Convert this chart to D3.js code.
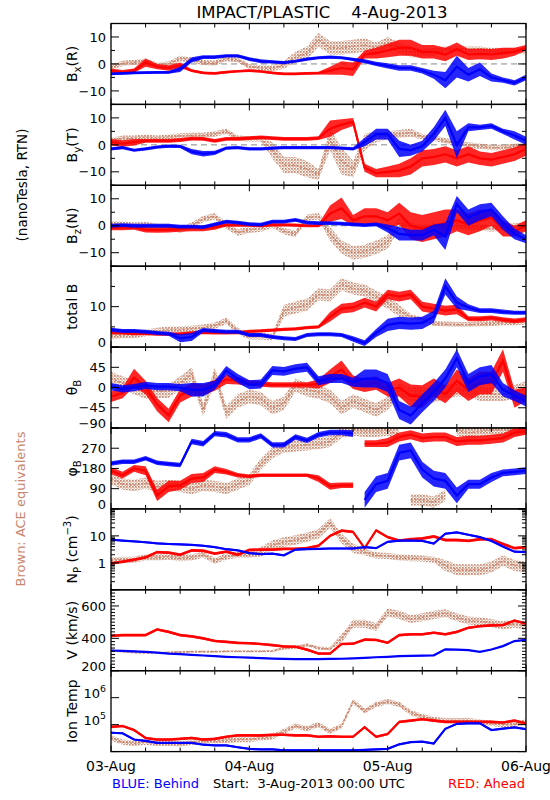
<!DOCTYPE html>
<html><head><meta charset="utf-8">
<script src="https://cdn.jsdelivr.net/npm/d3@7"></script>
<style>
body{margin:0;background:#fff}
svg text{font-family:"DejaVu Sans","Liberation Sans",sans-serif;white-space:pre}
</style>
</head><body>
<svg id="c" width="550" height="800"></svg>
<script>
// ---- sample times (hours after 3-Aug-2013 00:00 UTC), one reading every 2 h ----
const hours = d3.range(0, 73, 2);
const dayTicks = [0, 24, 48, 72];
const dayLabels = ["03-Aug", "04-Aug", "05-Aug", "06-Aug"];

// ---- B_x(R) ----
const bxBlue  = [-3.7,-3.5,-3.3,-3.2,-3.1,-3.1,-2,1.5,2.5,2.5,3,3,1.8,1,0.8,0.5,1,1.8,2.3,2.5,2.3,1.7,1,0,-0.7,-1.5,-1.5,-2.5,-4,-6,-1,-4,-2,-5,-6,-7,-5];
const bxBlueS = [.5,.5,.5,.5,.5,.5,1,1,.7,.7,.6,.6,.7,.7,.6,.6,.6,.6,.6,.6,.6,.6,.7,.8,1,1,1,1,1.5,3,4,2.5,2.5,1.5,1,1,1];
const bxRed   = [-2.5,-3,-2.5,0.5,-1,-1.5,-0.5,-2.5,-3.3,-3.5,-3,-2.7,-2.5,-2.8,-3.3,-3.7,-3.7,-3.5,-3.4,-2.5,-1.5,-2,3.5,4,5,6,6,4.5,4.5,3.5,5.5,3.5,3.7,3.5,4,4.5,6];
const bxRedS  = [.8,.8,.8,1.5,1,1,1,.5,.5,.5,.5,.5,.5,.5,.5,.5,.5,.5,.5,1.5,2.5,2.5,1.5,2,2.5,3,3,2.5,2.5,2.5,2.5,2,2,2,2,1.5,1];
const bxBrown = [-1.2,0.2,0.6,1,-0.5,0,2,1.5,0.5,0.3,2,1.5,-1,-1.5,-1.6,-0.3,2.5,4,9,6,6,6.5,7,6,8,6,4.5,4,4.5,5.5,5.5,5.5,5.5,5,5,5,4.5];
const bxBrownS= [1,1,1,1,1,1,1,1,1,1,1,1,1,1,1,1.5,2,2.5,2.5,2.5,2.5,2.5,2.5,2,2,2,2,1.5,1.5,1,1,1,1,1,1,1,1];

// ---- B_y(T) ----
const byBlue  = [-1.5,-1,-2,-1.5,-0.8,-0.5,-0.6,-2.5,-3.3,-3,-1.2,-1,-1.5,-1.5,-1.2,-1,-1,-1,-1,-1,-1.2,-1.5,1,4,4,-1.5,-2,-0.5,4,10,0,6.5,6.5,7,5,3.5,1.5];
const byBlueS = [.6,.6,.6,.6,.6,.6,.6,1,1,.8,.6,.6,.6,.6,.6,.6,.6,.6,.6,.6,.6,.6,1.5,2,2,3,2,2,2.5,3,5,1.5,1,1,1,1.5,1.5];
const byRed   = [1,0.5,1,1.5,1.5,1.5,1.8,2.3,2.2,1.5,2.2,2.2,2.5,2.8,2.5,2.2,2.2,2.2,2.5,6,7.5,8.5,-8.5,-10.5,-10,-9.5,-8,-5,-4.5,-3.5,-5,-3.5,-5,-5.5,-4.5,-3.5,-1.5];
const byRedS  = [1.2,1.2,1.2,.7,.7,.7,.7,.7,.7,.7,.7,.7,.7,.7,.7,.7,.7,.7,.7,3,2,1.5,1.5,1.5,2,2.5,3,3,3,3,3,3,2.5,2.5,2.5,2.5,2.5];
const byBrown = [1.5,2.5,2.5,2.8,2.5,2.8,3.3,3.5,3.5,4,5,2.5,2.2,2.2,-2,-7.5,-7.5,-9,-11,2,-6,-9,1,3,3.5,4,4.5,3,2.5,1.5,0.5,0,-0.5,-1,-1,-0.5,0];
const byBrownS= [1,1,1,1,1,1,1,1,1,1,1,1,1,1,3,3,3,3,2,4,5,3,3,2,1.5,1.5,1.5,1,1,1,1,1,1,1,1,1,1];

// ---- B_z(N) ----
const bzBlue  = [0,0.2,0,0,0,0,-0.3,-0.3,-0.5,0.5,1.5,1.2,0.6,0.4,1.5,1.5,2.2,1.2,1,1,0.8,0.5,0.2,0.5,-1,-3,-3.5,-3.5,-1.5,-4,8,3,5,6,1,-3,-5];
const bzBlueS = [.7,.7,.7,.7,.7,.7,.7,.7,.7,.7,.7,.7,.7,.7,.7,.7,.7,.7,.7,.7,.7,.7,.7,.7,1.5,2.5,2,2,2,5,3,3,3,2.5,2.5,2,1.5];
const bzRed   = [-0.7,-0.7,-0.5,-1.5,-1.6,-1.5,-1.2,-1,-1,-0.5,0.3,0.2,0.2,0,0.3,0.3,0.2,0,0,4.5,6.5,2,3.5,3.5,2,4.5,0,-1,0,1,2,0.5,2,3,-1,-2,0];
const bzRedS  = [1,1,1,1,1,1,1,1,1,1,.6,.6,.6,.6,.6,.6,.6,.6,.6,3,4,2,3,3,3,4,5,5,5,5,4,4,4,3,3,2,2];
const bzBrown = [0.5,0.5,0,0.3,-0.5,-0.5,-1.5,0,2.5,3.5,0,-2.5,-1.5,-1,0.5,-2,-3,3,3.5,-3,-8,-10,-9.5,-8,-6,1,0,-1,0,-0.5,0,-0.5,-0.5,-1,-0.5,-0.3,0];
const bzBrownS= [1.2,1.2,1.2,1.2,1.2,1.2,1.2,1.2,1.2,1.2,1.2,1.2,1.2,1.2,1.2,1.2,1.2,1.2,1.2,2.5,2.5,2.5,2.5,2.5,2.5,2.5,1.2,1.2,1.2,1.2,1.2,1.2,1.2,1.2,1.2,1.2,1.2];

// ---- total B ----
const btBlue  = [4.3,4,4,3.8,3.5,3.3,2.2,2.5,4.2,4,3.8,3.8,3,3,2.5,2.2,2,3,3.2,3.2,3,2,1,3.5,5.5,6,5.8,6,7.5,15,11,9.8,9,9,8.7,8.5,8.5];
const btBlueS = [.5,.5,.5,.5,.5,.5,1,1,.5,.5,.5,.5,.5,.5,.5,.5,.5,.5,.5,.5,.5,.7,.7,1,1.5,1.5,1.5,1.5,1.5,2,1.5,.8,.6,.6,.6,.5,.5];
const btRed   = [3.5,3.5,3.3,3.3,3.2,3.2,3.3,3.5,3.6,3.5,3.5,3.6,3.9,4,4.2,4.4,4.5,4.8,5,7.5,9.5,9.8,11,10,13,12.5,13,10,9.5,9,9.3,7,7,7.2,6.8,6.5,6.8];
const btRedS  = [.4,.4,.4,.4,.4,.4,.4,.4,.4,.4,.4,.4,.4,.4,.4,.4,.4,.4,.4,1.2,1.2,1.2,1.2,1.2,1.2,1.2,1.2,1.2,1.2,1.2,1.2,.6,.6,.6,.6,.6,.6];
const btBrown = [2.7,3,3,3.5,4,4.3,4.3,4.5,4.8,5.3,6.5,4,2.7,2.7,2.5,9,9.8,10.5,13,12.8,15.5,14.5,14,12.5,11,9,7.5,6.8,5.8,5.7,5.6,5.6,5.7,5.8,6,6,6.2];
const btBrownS= [.8,.8,.8,.8,.8,.8,.8,.8,.8,.8,.8,.8,.8,.8,.8,1.5,1.5,1.5,1.5,1.5,1.5,1.5,1.5,1.5,1.5,1.5,.6,.6,.6,.6,.6,.6,.6,.6,.6,.6,.6];

// ---- theta_B (deg) ----
const thBlue  = [2,-3,0,5,2,2,0,-5,-5,5,38,20,6,8,38,36,42,45,15,20,20,12,20,20,10,-50,-62,-35,-10,20,65,10,25,30,-5,-18,-30];
const thBlueS = [8,8,8,8,8,8,8,15,15,10,10,10,10,10,10,10,10,10,10,10,10,10,20,20,20,20,20,20,20,20,20,20,20,20,15,12,12];
const thRed   = [-20,-12,22,0,-38,-62,-18,-5,-5,5,18,15,10,8,6,6,6,6,8,25,40,12,5,10,-5,0,-18,-20,0,-15,15,-5,10,10,60,-25,-15];
const thRedS  = [12,12,20,15,15,15,15,15,12,12,10,8,6,6,6,6,6,6,10,15,20,15,15,15,15,20,25,25,20,20,25,25,25,25,25,20,15];
const thBrown = [20,10,0,-10,-8,-8,10,30,-50,30,-55,-30,-20,-25,-45,-35,5,-5,-10,-20,-45,-30,-40,-50,-35,-5,-15,-15,-18,-10,-5,-5,-15,-15,-15,-10,0];
const thBrownS= 15;

// ---- phi_B (deg) ----
const phBlue  = [202,210,210,225,205,200,195,300,290,335,330,307,307,325,285,285,320,305,330,340,340,335,40,110,125,250,260,175,135,125,60,110,110,140,160,165,170];
const phBlueS = [10,10,10,10,10,10,10,12,12,12,12,12,12,12,12,12,12,12,12,12,12,15,35,35,35,35,35,35,35,35,35,20,20,20,15,15,15];
const phRed   = [170,150,180,170,60,100,105,135,140,175,165,150,145,150,150,150,150,150,135,100,105,105,290,290,295,320,330,315,320,320,300,305,305,310,315,340,345];
const phRedS  = [15,15,15,20,25,25,20,20,20,15,12,10,8,8,8,8,8,8,15,15,12,12,15,15,20,20,20,20,20,20,20,20,20,20,20,20,15];
const phBrown = [135,110,105,115,100,105,100,90,105,100,90,110,130,200,250,275,280,285,290,300,340,350,345,345,350,330,40,40,30,60,350,340,345,350,350,350,355];
const phBrownS= 25;

// ---- N_P (cm^-3), log; spreads are multiplicative ----
const npBlue  = [7.3,6.7,6.2,5.8,5.3,5,4.8,4.6,4.3,3.8,3.2,2.9,2.3,2.1,2.2,1.9,3.1,3.2,3.3,3.4,3.4,3.4,3.8,3.5,6,6.7,6.7,6.5,5.2,12,13.5,11,9,6.5,4,2.6,2.5];
const npBlueS = 1.08;
const npRed   = [0.95,1.1,1.3,1.6,2.5,2.4,2,2.9,2.8,2.2,2.6,2,3,3.1,3.1,3.3,3.3,3.5,4.3,10,15.6,14,3.5,16,9,6.7,7.5,8,9.5,7,7,6.5,7.5,7.5,5,3.5,3.8];
const npRedS  = 1.13;
const npBrown = [1.25,1.3,1.3,1.6,1.6,1.7,1.5,1.6,2,1.2,1.7,2,2,2.6,4.5,5.9,7,8.9,12,30,8,3.5,2.5,1.9,1.8,1.6,1.5,1.45,1.3,0.8,0.55,0.55,0.55,0.7,1.2,0.8,0.7];
const npBrownS= [1.3,1.3,1.3,1.3,1.3,1.3,1.3,1.3,1.3,1.3,1.3,1.3,1.3,1.5,1.5,1.5,1.5,1.5,1.5,1.5,1.5,1.5,1.3,1.3,1.3,1.3,1.3,1.3,1.3,1.6,1.6,1.6,1.6,1.6,1.6,1.6,1.6];

// ---- V (km/s) ----
const vBlue   = [325,322,320,316,312,306,302,298,294,290,286,283,281,278,275,273,272,272,272,273,274,276,279,283,286,290,292,293,295,332,330,327,317,331,352,383,390];
const vBlueS  = 3;
const vRed    = [415,420,420,420,455,440,420,412,400,384,378,372,370,365,358,350,348,330,306,306,365,367,392,390,373,420,425,425,435,425,440,465,475,480,482,510,490];
const vRedS   = 8;
const vBrown  = [325,318,312,310,310,312,316,318,318,318,320,320,320,320,322,340,345,360,340,335,400,490,490,470,560,545,520,530,545,555,530,510,505,495,480,490,480];
const vBrownS = [6,6,6,6,6,6,6,6,6,6,6,6,6,6,6,10,10,10,10,10,25,25,25,25,25,25,25,25,25,25,25,25,25,25,25,25,25];

// ---- Ion temperature (K), log; spreads multiplicative ----
const tBlue   = [5.0e4,4.8e4,2.8e4,2.5e4,2.1e4,2.1e4,2.1e4,2.1e4,1.8e4,1.7e4,1.7e4,1.45e4,1.26e4,1.2e4,1.2e4,1.12e4,1.12e4,1.12e4,1.12e4,1.12e4,1.12e4,1.12e4,1.15e4,1.2e4,1.26e4,1.86e4,2.24e4,2.34e4,2.0e4,7.0e4,1.07e5,1.12e5,1.12e5,6.3e4,7.1e4,7.9e4,6.8e4];
const tBlueS  = 1.08;
const tRed    = [8.3e4,8.9e4,6.3e4,3.2e4,2.8e4,2.8e4,2.95e4,3.2e4,2.8e4,2.95e4,3.55e4,4.0e4,4.0e4,4.0e4,4.2e4,4.2e4,4.0e4,4.0e4,3.55e4,3.7e4,3.55e4,3.55e4,8.0e4,3.55e4,4.5e4,1.26e5,1.41e5,1.58e5,1.41e5,1.26e5,1.26e5,1.26e5,1.26e5,1.26e5,1.2e5,1.41e5,1.12e5];
const tRedS   = 1.12;
const tBrown  = [3.2e4,2.24e4,2.0e4,2.24e4,2.0e4,2.0e4,1.9e4,2.24e4,2.5e4,2.5e4,2.6e4,2.8e4,2.8e4,3.2e4,3.55e4,5.6e4,8.9e4,7.1e4,1.0e5,5.6e4,8.9e4,7.1e5,3.2e5,5.6e5,7.1e5,5.6e5,2.8e5,2.0e5,1.58e5,1.41e5,1.41e5,1.41e5,1.26e5,1.12e5,1.0e5,1.0e5,1.26e5];
const tBrownS = 1.25;

// ---- tick labels ----
const bTickLabels   = [10, 0, -10];
const btTickLabels  = [10, 0];
const thTickLabels  = [45, 0, -45, -90];
const phTickLabels  = [270, 180, 90, 0];
const npTickLabels  = [10, 1];
const vTickLabels   = [600, 400, 200];
const tTickLabels   = [1e6, 1e5];

// ================= drawing =================
const COL = {blue:"#0000ff", red:"#ff0000", brown:"#c8866c"};
const X0 = 111, X1 = 526, TOP = 23.5, PH = 80.9;
const svg = d3.select("#c");
const x = d3.scaleLinear().domain([0, 72]).range([X0, X1]);

const lin = (lo, hi, step) => d3.range(lo, hi + 1e-9, step);
const logMinor = (lo, hi) => { const r=[]; for (let e=Math.floor(Math.log10(lo)); e<Math.log10(hi); e++) for (let k=2;k<10;k++){const v=k*Math.pow(10,e); if(v>lo&&v<hi) r.push(v);} return r; };
const fmt = v => (v < 0 ? "\u2212" + Math.abs(v) : String(v));

const panels = [
  {label:[["B"],["x","sub"],["(R)"]], log:false, domain:[-15,15], major:[-10,0,10], minor:[-15,-5,5,15], ticks:bTickLabels, zero:true,
   s:[[bxBrown,bxBrownS,"brown"],[bxRed,bxRedS,"red"],[bxBlue,bxBlueS,"blue"]]},
  {label:[["B"],["y","sub"],["(T)"]], log:false, domain:[-15,15], major:[-10,0,10], minor:[-15,-5,5,15], ticks:bTickLabels, zero:true,
   s:[[byBrown,byBrownS,"brown"],[byRed,byRedS,"red"],[byBlue,byBlueS,"blue"]]},
  {label:[["B"],["z","sub"],["(N)"]], log:false, domain:[-15,15], major:[-10,0,10], minor:[-15,-5,5,15], ticks:bTickLabels, zero:true,
   s:[[bzBrown,bzBrownS,"brown"],[bzRed,bzRedS,"red"],[bzBlue,bzBlueS,"blue"]]},
  {label:[["total B"]], log:false, domain:[0,20], major:[0,10,20], minor:[5,15], ticks:btTickLabels,
   s:[[btBrown,btBrownS,"brown"],[btRed,btRedS,"red"],[btBlue,btBlueS,"blue"]]},
  {label:[["\u03b8"],["B","sub"]], log:false, domain:[-90,90], major:[-90,-45,0,45,90], minor:[], ticks:thTickLabels,
   s:[[thBrown,thBrownS,"brown"],[thRed,thRedS,"red"],[thBlue,thBlueS,"blue"]]},
  {label:[["\u03c6"],["B","sub"]], log:false, domain:[0,360], major:[0,90,180,270,360], minor:[], ticks:phTickLabels, wrap:true,
   s:[[phBrown,phBrownS,"brown"],[phRed,phRedS,"red"],[phBlue,phBlueS,"blue"]]},
  {label:[["N"],["P","sub"],[" (cm"],["\u22123","sup"],[")"]], log:true, domain:[0.1,100], major:[0.1,1,10,100], minor:logMinor(0.1,100), ticks:npTickLabels,
   s:[[npBrown,npBrownS,"brown"],[npRed,npRedS,"red"],[npBlue,npBlueS,"blue"]]},
  {label:[["V (km/s)"]], log:false, domain:[200,700], major:[200,400,600], minor:lin(220,700,20).filter(v=>v%200), ticks:vTickLabels,
   s:[[vBrown,vBrownS,"brown"],[vRed,vRedS,"red"],[vBlue,vBlueS,"blue"]]},
  {label:[["Ion Temp"]], log:true, domain:[1e4,1e7], major:[1e4,1e5,1e6,1e7], minor:[], ticks:tTickLabels, pow:true,
   s:[[tBrown,tBrownS,"brown"],[tRed,tRedS,"red"],[tBlue,tBlueS,"blue"]]}
];

const defs = svg.append("defs");
// scattered-dot texture for the ACE (brown) envelopes
{
  const pt = defs.append("pattern").attr("id", "dots-brown").attr("patternUnits", "userSpaceOnUse")
    .attr("width", 3).attr("height", 3);
  pt.append("rect").attr("x", 0).attr("y", 0).attr("width", 1.7).attr("height", 1.7).attr("fill", COL.brown);
  pt.append("rect").attr("x", 1.5).attr("y", 1.5).attr("width", 1.2).attr("height", 1.2).attr("fill", COL.brown);
}

function addText(sel, parts, size){
  let shift = 0;
  parts.forEach(p => {
    const t = sel.append("tspan").text(p[0]);
    let target = 0;
    if (p[1] === "sub") { target = size*0.3; t.attr("font-size", size*0.72); }
    else if (p[1] === "sup") { target = -size*0.45; t.attr("font-size", size*0.72); }
    t.attr("dy", target - shift); shift = target;
  });
}

panels.forEach((p, i) => {
  const top = TOP + i*PH, bot = TOP + (i+1)*PH;
  const y = (p.log ? d3.scaleLog() : d3.scaleLinear()).domain(p.domain).range([bot, top]);
  const g = svg.append("g");
  const cid = "clip" + i;
  defs.append("clipPath").attr("id", cid).append("rect").attr("x", X0).attr("y", top).attr("width", X1-X0).attr("height", bot-top);
  const data = g.append("g").attr("clip-path", `url(#${cid})`);

  if (p.zero) data.append("line").attr("x1", X0).attr("x2", X1).attr("y1", y(0)).attr("y2", y(0))
      .attr("stroke", "#888").attr("stroke-width", 1).attr("stroke-dasharray", "6,4");

  p.s.forEach(([vals, spr, c]) => {
    const sp = j => Array.isArray(spr) ? spr[j] : spr;
    let segs = [[0]];
    for (let j = 1; j < vals.length; j++) {
      if (p.wrap && Math.abs(vals[j]-vals[j-1]) > 180) segs.push([j]); else segs[segs.length-1].push(j);
    }
    const lo = j => p.log ? vals[j]/sp(j) : vals[j]-sp(j);
    const hi = j => p.log ? vals[j]*sp(j) : vals[j]+sp(j);
    const brown = c === "brown";
    const fill = brown ? "url(#dots-brown)" : COL[c];
    const fop = brown ? 1 : 0.85;
    segs.forEach(seg => {
      if (seg.length === 1) {
        const j = seg[0];
        data.append("rect").attr("x", x(hours[j])-1.5).attr("width", 3)
          .attr("y", y(hi(j))).attr("height", Math.max(2, y(lo(j))-y(hi(j))))
          .attr("fill", fill).attr("fill-opacity", fop);
        return;
      }
      data.append("path").datum(seg)
        .attr("d", d3.area().x(j => x(hours[j])).y0(j => y(lo(j))).y1(j => y(hi(j))))
        .attr("fill", fill).attr("fill-opacity", fop);
      data.append("path").datum(seg)
        .attr("d", d3.line().x(j => x(hours[j])).y(j => y(vals[j])))
        .attr("fill", "none").attr("stroke", COL[c]).attr("stroke-width", brown ? 1.6 : 2.2)
        .attr("stroke-dasharray", brown ? "2,2" : null);
    });
  });

  // frame
  g.append("rect").attr("x", X0).attr("y", top).attr("width", X1-X0).attr("height", bot-top)
    .attr("fill", "none").attr("stroke", "#000").attr("stroke-width", 1.3);

  // y ticks (both sides, pointing in)
  const tk = g.append("g").attr("stroke", "#000").attr("stroke-width", 1);
  p.major.forEach(v => { const yy = y(v);
    tk.append("line").attr("x1", X0).attr("x2", X0+8).attr("y1", yy).attr("y2", yy);
    tk.append("line").attr("x1", X1-8).attr("x2", X1).attr("y1", yy).attr("y2", yy); });
  p.minor.forEach(v => { const yy = y(v);
    tk.append("line").attr("x1", X0).attr("x2", X0+4).attr("y1", yy).attr("y2", yy);
    tk.append("line").attr("x1", X1-4).attr("x2", X1).attr("y1", yy).attr("y2", yy); });
  d3.range(0, 73, 6).forEach(h => { const xx = x(h), L = (h % 24 === 0) ? 6 : 4;
    tk.append("line").attr("x1", xx).attr("x2", xx).attr("y1", top).attr("y2", top+L);
    tk.append("line").attr("x1", xx).attr("x2", xx).attr("y1", bot-L).attr("y2", bot); });

  // y tick labels
  p.ticks.forEach(v => {
    let yy = y(v);
    if (bot - yy < 2) yy -= 4.5;
    const t = g.append("text").attr("x", X0-5).attr("y", yy).attr("dy", "0.36em")
      .attr("text-anchor", "end").attr("font-size", 13);
    if (p.pow) { addText(t, [["10"], [String(Math.round(Math.log10(v))), "sup"]], 13); }
    else t.text(fmt(v));
  });

  // panel label (rotated)
  const lt = g.append("text").attr("transform", `translate(77,${(top+bot)/2}) rotate(-90)`)
    .attr("text-anchor", "middle").attr("font-size", 14);
  addText(lt, p.label, 14);
});

// title & side labels
svg.append("text").attr("x", 322).attr("y", 18).attr("text-anchor", "middle").attr("font-size", 16.5)
  .text("IMPACT/PLASTIC    4-Aug-2013");
svg.append("text").attr("transform", "translate(27,185) rotate(-90)").attr("text-anchor", "middle")
  .attr("font-size", 13.5).text("(nanoTesla, RTN)");
svg.append("text").attr("transform", "translate(25,509) rotate(-90)").attr("text-anchor", "middle")
  .attr("font-size", 13).attr("fill", COL.brown).text("Brown: ACE equivalents");

dayTicks.forEach((h, i) => svg.append("text").attr("x", x(h)).attr("y", 771).attr("text-anchor", "middle")
  .attr("font-size", 14).text(dayLabels[i]));

svg.append("text").attr("x", 112).attr("y", 788).attr("font-size", 13).attr("fill", COL.blue).text("BLUE: Behind");
svg.append("text").attr("x", 213).attr("y", 788).attr("font-size", 13).text("Start:  3-Aug-2013 00:00 UTC");
svg.append("text").attr("x", 525).attr("y", 788).attr("text-anchor", "end").attr("font-size", 13).attr("fill", COL.red).text("RED: Ahead");
</script>
</body></html>
